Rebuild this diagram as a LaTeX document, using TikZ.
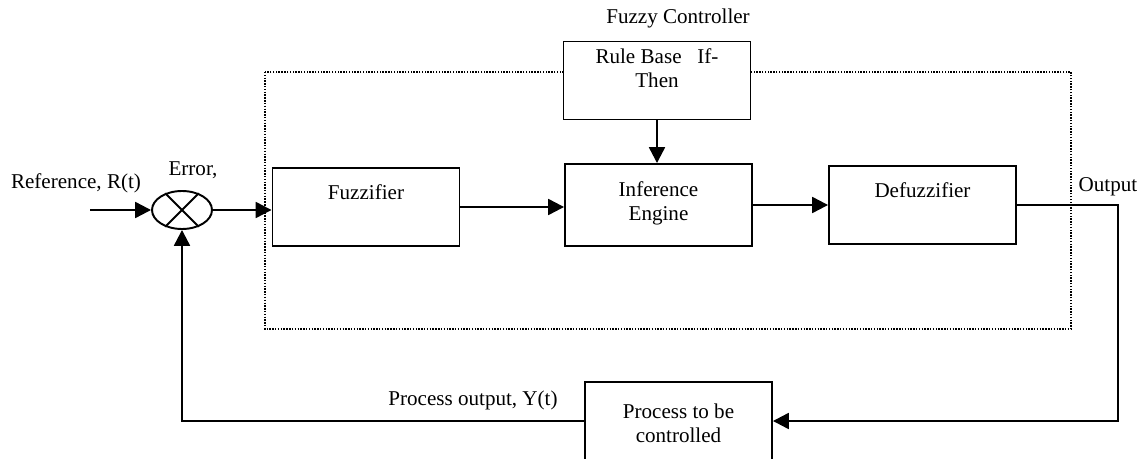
\documentclass[tikz,border=0pt]{standalone}
\usepackage{fontspec}
\setmainfont{Liberation Serif}
\usetikzlibrary{arrows.meta,shapes.geometric}

\begin{document}
\begin{tikzpicture}[x=0.02cm,y=-0.02cm,
	>={Triangle[length=9pt,width=9pt]},
	font=\fontsize{12}{13.5}\selectfont,
	blk/.style={draw,fill=white,line width=1.1pt,minimum width=3.74cm,minimum height=1.56cm,inner sep=0pt},
	flow/.style={line width=1.3pt},
	txt/.style={align=center,inner sep=0pt}]
				\clip (0,0) rectangle (1143,459);
				% controller frame
				\draw[line width=1pt,dash pattern=on 0.8pt off 0.8pt] (265,72) rectangle (1071,329);
				\node[txt] (title) at (678,18) {Fuzzy Controller};
				% blocks
				\node[blk] (rule) at (657,80.5) {};
				\node[blk] (fuzz) at (366,207) {};
				\node[blk,minimum height=1.64cm] (infer) at (658.5,205) {};
				\node[blk] (defuzz) at (922.5,205) {};
				\node[blk] (proc) at (678.5,421) {};
				\node[ellipse,draw,line width=1.1pt,minimum width=1.2cm,minimum height=0.76cm,inner sep=0pt] (sum) at (182,210) {};
				\draw[line width=1.1pt] (sum.135) -- (sum.-45) (sum.45) -- (sum.-135);
				% block texts
				\node[txt] (ruletxt) at (657,68) {Rule Base\ \ \ If-\\Then};
				\node[txt] (fuzztxt) at (366,192) {Fuzzifier};
				\node[txt] (infertxt) at (658.5,203) {Inference\\Engine};
				\node[txt] (defuzztxt) at (922.5,190) {Defuzzifier};
				\node[txt] (proctxt) at (678.5,423) {Process to be\\controlled};
				% signal labels
				\node[txt] (reflbl) at (76,183) {Reference, R(t)};
				\node[txt] (errlbl) at (193,170) {Error,};
				\node[txt] (outlbl) at (1108,187) {Output};
				\node[txt] (ylbl) at (473,400) {Process output, Y(t)};
				% connectors
				\coordinate (refin) at (90,210);
				\coordinate (outc) at (1118,205);
				\draw[flow,->] (refin) -- (sum);
				\draw[flow,->] (sum.east) -- (sum.east -| fuzz.west);
				\draw[flow,->] (fuzz.east) -- (fuzz.east -| infer.west);
				\draw[flow,->] (infer.east) -- (infer.east -| defuzz.west);
				\draw[flow,->] (rule.south) -- (rule.south |- infer.north);
				\draw[flow,->] (defuzz.east) -- (outc) |- (proc.east);
				\draw[flow,->] (proc.west) -| (sum.south);
			\end{tikzpicture}
\end{document}
